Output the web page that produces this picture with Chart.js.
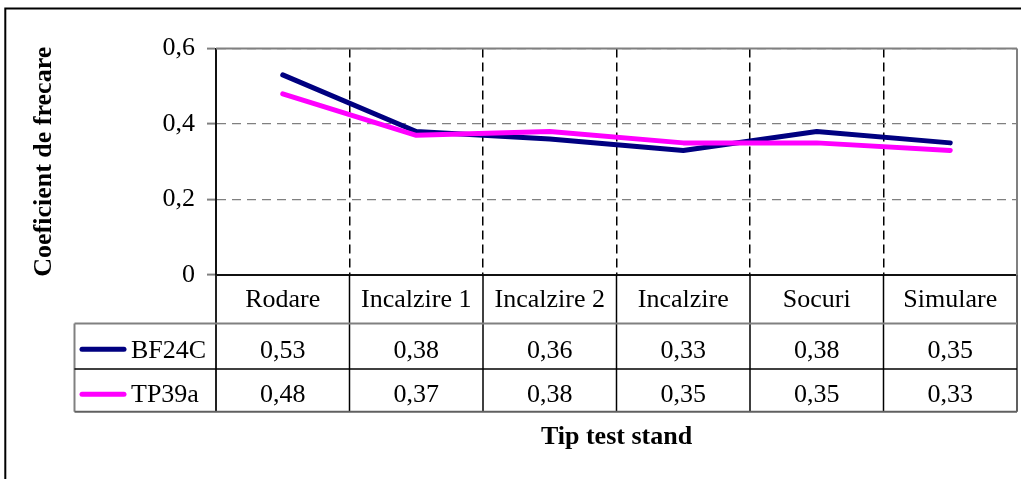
<!DOCTYPE html>
<html><head><meta charset="utf-8">
<script src="https://cdn.jsdelivr.net/npm/chart.js@4.4.0/dist/chart.umd.min.js"></script>
<style>html,body{margin:0;padding:0;background:#fff;overflow:hidden}canvas{display:block}</style>
</head><body>
<canvas id="c" width="1021" height="479"></canvas>
<script>
const categories = ['Rodare', 'Incalzire 1', 'Incalzire 2', 'Incalzire', 'Socuri', 'Simulare'];
const seriesNames = ['BF24C', 'TP39a'];
const bf24c = [0.53, 0.38, 0.36, 0.33, 0.38, 0.35];
const tp39a = [0.48, 0.37, 0.38, 0.35, 0.35, 0.33];
const yTicks = [0, 0.2, 0.4, 0.6];
const yTitle = 'Coeficient de frecare';
const xTitle = 'Tip test stand';

const seriesColors = ['#000080', '#FF00FF'];
const FONT = "'Liberation Serif','Times New Roman',serif";
const fmt = v => { const r = Math.round(v * 100) / 100; return r === 0 ? '0' : String(r).replace('.', ','); };

const tablePlugin = {
  id: 'dataTable',
  beforeDraw(chart) {
    const ctx = chart.ctx;
    ctx.save();
    ctx.fillStyle = '#fff';
    ctx.fillRect(0, 0, chart.width, chart.height);
    ctx.restore();
  },
  afterDraw(chart) {
    const { ctx, chartArea: a, scales: { x } } = chart;
    const seriesData = [bf24c, tp39a];
    const r0 = a.bottom, r1 = a.bottom + 48.5, r2 = a.bottom + 94, r3 = a.bottom + 136.7;
    const legLeft = 74.5;
    const n = categories.length;
    const bounds = [a.left];
    for (let i = 1; i < n; i++) bounds.push((x.getPixelForValue(i - 1) + x.getPixelForValue(i)) / 2);
    bounds.push(a.right);
    const line = (x1, y1, x2, y2, color, w) => {
      ctx.save(); ctx.strokeStyle = color; ctx.lineWidth = w; ctx.setLineDash([]);
      ctx.beginPath(); ctx.moveTo(x1, y1); ctx.lineTo(x2, y2); ctx.stroke(); ctx.restore();
    };
    // plot area border (top, right)
    line(a.left, a.top, a.right, a.top, '#808080', 2);
    line(a.right, a.top, a.right, a.bottom, '#808080', 2);
    // table vertical separators
    for (let i = 1; i < n; i++) line(bounds[i], r0, bounds[i], r3, '#000', 1.5);
    line(a.left, r0, a.left, r3, '#222', 2);
    line(a.right, r0, a.right, r3, '#606060', 2);
    line(legLeft, r1, legLeft, r3, '#808080', 2);
    // table horizontal lines
    line(legLeft, r1, a.right, r1, '#808080', 2);
    line(legLeft, r2, a.right, r2, '#000', 1.5);
    line(legLeft, r3, a.right, r3, '#606060', 2);
    // values and legend keys
    const baselines = [r1 + 34.5, r2 + 32.5];
    ctx.save();
    ctx.font = '26px ' + FONT;
    ctx.fillStyle = '#000';
    ctx.textBaseline = 'alphabetic';
    seriesData.forEach((vals, s) => {
      ctx.textAlign = 'center';
      vals.forEach((v, i) => ctx.fillText(fmt(v), x.getPixelForValue(i), baselines[s]));
      const ky = s === 0 ? (r1 + r2) / 2 + 3 : (r2 + r3) / 2 + 4;
      ctx.save();
      ctx.strokeStyle = seriesColors[s]; ctx.lineWidth = 5; ctx.lineCap = 'round';
      ctx.beginPath(); ctx.moveTo(82, ky); ctx.lineTo(124, ky); ctx.stroke();
      ctx.restore();
      ctx.textAlign = 'left';
      ctx.fillText(seriesNames[s], 131, baselines[s]);
    });
    ctx.restore();
    // outer chart border
    ctx.save();
    ctx.strokeStyle = '#000'; ctx.lineWidth = 2;
    ctx.strokeRect(5.3, 8.5, 1200, 600);
    ctx.restore();
  }
};

new Chart(document.getElementById('c'), {
  type: 'line',
  data: {
    labels: categories,
    datasets: [
      { label: seriesNames[0], data: bf24c, borderColor: seriesColors[0], backgroundColor: seriesColors[0],
        borderWidth: 5, pointRadius: 0, tension: 0, borderCapStyle: 'round', borderJoinStyle: 'round', order: 1 },
      { label: seriesNames[1], data: tp39a, borderColor: seriesColors[1], backgroundColor: seriesColors[1],
        borderWidth: 5, pointRadius: 0, tension: 0, borderCapStyle: 'round', borderJoinStyle: 'round', order: 0 }
    ]
  },
  options: {
    responsive: false,
    animation: false,
    events: [],
    layout: { padding: { left: 0, top: 48.5, right: 4, bottom: 0 } },
    plugins: { legend: { display: false }, tooltip: { enabled: false }, title: { display: false } },
    scales: {
      x: {
        type: 'category',
        offset: true,
        grid: {
          display: true, offset: true, drawTicks: false, lineWidth: 1.5,
          color: c => (c.type === 'tick' && c.index > 0) ? '#000' : 'rgba(0,0,0,0)'
        },
        border: { display: true, color: '#111', width: 2, dash: [9, 5] },
        ticks: { color: '#000', font: { family: FONT, size: 26, lineHeight: 1.2 }, padding: 10,
                 autoSkip: false, maxRotation: 0, minRotation: 0 },
        title: { display: true, text: xTitle, color: '#000',
                 font: { family: FONT, size: 26, weight: 'bold', lineHeight: 1.2 },
                 padding: { top: 0, bottom: 26 } },
        afterFit: s => { s.height = 204; }
      },
      y: {
        min: 0, max: 0.6,
        afterBuildTicks: s => { s.ticks = yTicks.map(v => ({ value: v })); },
        grid: { color: '#808080', lineWidth: 1.2, tickLength: 9, tickColor: '#808080', tickWidth: 2, drawTicks: true },
        border: { display: true, color: '#111', width: 2, dash: [9, 6] },
        ticks: { color: '#000', font: { family: FONT, size: 26, lineHeight: 1.2 }, padding: 12,
                 callback: v => fmt(v) },
        title: { display: true, text: yTitle, color: '#000',
                 font: { family: FONT, size: 26, weight: 'bold', lineHeight: 1.2 },
                 padding: { top: 29, bottom: 0 } },
        afterFit: s => { s.width = 216; }
      }
    }
  },
  plugins: [tablePlugin]
});
</script>
</body></html>
